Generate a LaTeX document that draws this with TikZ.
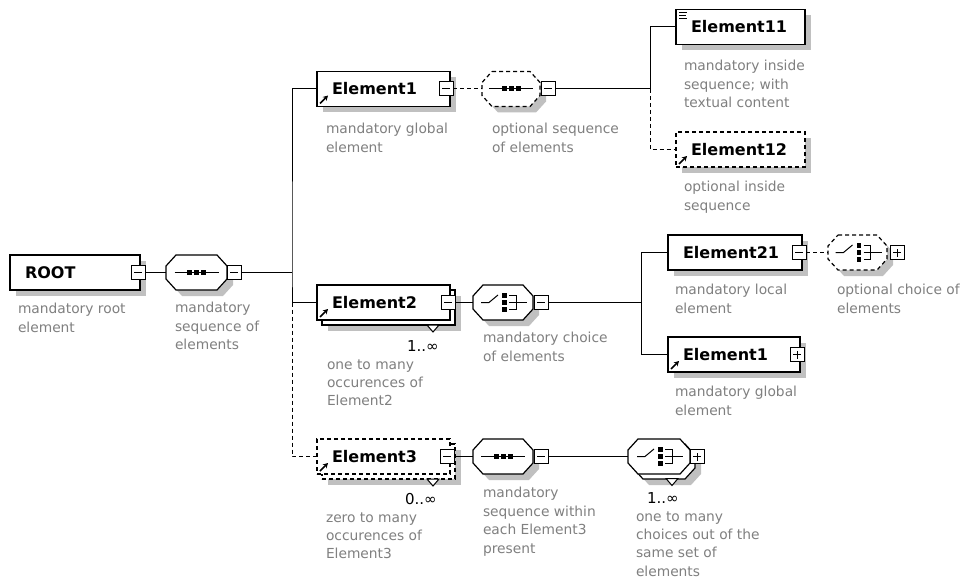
\documentclass[tikz,border=0pt]{standalone}
\usepackage{fontspec}
\setmainfont{DejaVu Sans}
\usetikzlibrary{shadows,arrows.meta}
\definecolor{shd}{HTML}{C0C0C0}
\definecolor{lbl}{HTML}{808080}
% octagon (compositor) outline drawn round a named rectangle node
\newcommand\octshape[2]{%
  \path[#2] ([xshift=10pt]#1.north west) -- ([xshift=-10pt]#1.north east)
    -- ([yshift=-11pt]#1.north east) -- ([yshift=11pt]#1.south east)
    -- ([xshift=-10pt]#1.south east) -- ([xshift=10pt]#1.south west)
    -- ([yshift=11pt]#1.south west) -- ([yshift=-11pt]#1.north west) -- cycle;}
% sequence icon
\newcommand\seqicon[1]{%
  \draw[line width=1pt] ([xshift=-22pt]#1.center) -- ([xshift=22pt]#1.center);
  \fill ([xshift=-9.5pt,yshift=-2.5pt]#1.center) rectangle ([xshift=-4.5pt,yshift=2.5pt]#1.center);
  \fill ([xshift=-2.5pt,yshift=-2.5pt]#1.center) rectangle ([xshift=2.5pt,yshift=2.5pt]#1.center);
  \fill ([xshift=4.5pt,yshift=-2.5pt]#1.center) rectangle ([xshift=9.5pt,yshift=2.5pt]#1.center);}
% choice icon
\newcommand\choiceicon[1]{%
  \draw[line width=1pt] ([xshift=-22pt]#1.center) -- ([xshift=-14pt]#1.center) -- ([xshift=-5pt,yshift=7.5pt]#1.center);
  \fill ([xshift=-0.7pt,yshift=4.5pt]#1.center) rectangle ([xshift=3.7pt,yshift=9.5pt]#1.center);
  \fill ([xshift=-0.7pt,yshift=-2.5pt]#1.center) rectangle ([xshift=3.7pt,yshift=2.5pt]#1.center);
  \fill ([xshift=-0.7pt,yshift=-9.5pt]#1.center) rectangle ([xshift=3.7pt,yshift=-4.5pt]#1.center);
  \draw[line width=1pt] ([xshift=6pt,yshift=7pt]#1.center) -| ([xshift=13pt,yshift=-7pt]#1.center) -- ([xshift=6pt,yshift=-7pt]#1.center)
    ([xshift=6pt]#1.center) -- ([xshift=24pt]#1.center);}
\begin{document}
\begin{tikzpicture}[x=1pt,y=-1pt,
  every node/.style={inner sep=0pt,outer sep=0pt},
  conn/.style={line width=1pt},
  dsh/.style={dash pattern=on 4pt off 3pt},
  sh/.style={drop shadow={shadow xshift=6pt,shadow yshift=-6pt,fill=shd,opacity=1}},
  box/.style={draw,fill=white,line width=1.2pt,rectangle,minimum height=35pt},
  elem/.style={box,sh},
  compnode/.style={rectangle,minimum height=35pt},
  octdraw/.style={draw,fill=white,line width=1.2pt},
  pmbox/.style={draw,fill=white,line width=1pt,minimum size=14pt},
  minus/.style={pmbox,path picture={
    \draw[line width=1pt] ([xshift=3pt]path picture bounding box.west) -- ([xshift=-3pt]path picture bounding box.east);}},
  plus/.style={pmbox,path picture={
    \draw[line width=1pt] ([xshift=3pt]path picture bounding box.west) -- ([xshift=-3pt]path picture bounding box.east);
    \draw[line width=1pt] ([yshift=3pt]path picture bounding box.south) -- ([yshift=-3pt]path picture bounding box.north);}},
  ename/.style={font=\fontsize{16}{19}\selectfont\bfseries,anchor=west},
  lab/.style={font=\fontsize{13.8}{18.4}\selectfont,text=lbl,align=left,anchor=north west},
  mult/.style={font=\fontsize{15}{18}\selectfont,anchor=base west},
  refarr/.style={line width=1.5pt,-{Stealth[length=5pt,width=5.5pt]}},
  tri/.style={draw,fill=white,line width=1pt}
]
\fill[white] (0,0) rectangle (960,583);
\useasboundingbox (0,0) rectangle (960,583);

% ---------- ROOT ----------
\node[elem,minimum width=130pt] (root) at (75,272.5) {};
\node[ename] (rootT) at ([xshift=15pt]root.west) {ROOT};
\node[minus] (rootm) at (138,272.5) {};
\node[lab] (rootL) at (18,303.5) {mandatory root\\element};

\node[compnode,minimum width=61pt] (seq1) at (196.5,272.5) {};
\octshape{seq1}{octdraw,sh}
\seqicon{seq1}
\node[minus] (seq1m) at (234,272.5) {};
\node[lab] (seq1L) at (175,302.5) {mandatory\\sequence of\\elements};
\coordinate (t1) at (292,272.5);

% ---------- Element1 ----------
\node[elem,minimum width=133pt] (e1) at (383.5,89) {};
\node[ename] (e1T) at ([xshift=15pt]e1.west) {Element1};
\node[minus] (e1m) at (446,89) {};
\draw[refarr] ([xshift=3pt,yshift=3pt]e1.south west) -- ++(8,-8);
\node[lab] (e1L) at (326,123.5) {mandatory global\\element};

\node[compnode,minimum width=58pt] (os1) at (511,89) {};
\octshape{os1}{octdraw,dsh,sh}
\seqicon{os1}
\node[minus] (os1m) at (548,89) {};
\node[lab] (os1L) at (492,123.5) {optional sequence\\of elements};
\coordinate (t2) at (650,89);

\node[elem,minimum width=129pt] (e11) at (740.5,27) {};
\node[ename] (e11T) at ([xshift=15pt]e11.west) {Element11};
\draw[line width=1pt] (679,12.5) -- (687,12.5) (679,15.5) -- (686,15.5) (679,18.5) -- (687,18.5);
\node[lab] (e11L) at (684,60.5) {mandatory inside\\sequence; with\\textual content};

\node[elem,dsh,minimum width=129pt] (e12) at (740.5,149.5) {};
\node[ename] (e12T) at ([xshift=15pt]e12.west) {Element12};
\draw[refarr] ([xshift=3pt,yshift=3pt]e12.south west) -- ++(8,-8);
\node[lab] (e12L) at (684,181.5) {optional inside\\sequence};

% ---------- Element2 ----------
\node[elem,minimum width=133pt] (e2b) at (388.5,307.5) {};
\node[box,minimum width=133pt] (e2) at (383.5,302.5) {};
\node[ename] (e2T) at ([xshift=15pt]e2.west) {Element2};
\draw[tri] (427,325) -- (439,325) -- (433,332) -- cycle;
\node[minus] (e2m) at (448,302.5) {};
\draw[refarr] ([xshift=3pt,yshift=3pt]e2.south west) -- ++(8,-8);
\node[mult] (e2M) at (407,351) {1..∞};
\node[lab] (e2L) at (327,359.5) {one to many\\occurences of\\Element2};

\node[compnode,minimum width=60pt] (c2) at (503,302.5) {};
\octshape{c2}{octdraw,sh}
\choiceicon{c2}
\node[minus] (c2m) at (541,302.5) {};
\node[lab] (c2L) at (483,332.5) {mandatory choice\\of elements};
\coordinate (t3) at (641,302.5);

\node[elem,minimum width=134pt] (e21) at (735,252.5) {};
\node[ename] (e21T) at ([xshift=15pt]e21.west) {Element21};
\node[minus] (e21m) at (799,252.5) {};
\node[lab] (e21L) at (675,284.5) {mandatory local\\element};

\node[compnode,minimum width=59pt] (oc21) at (857.5,252.5) {};
\octshape{oc21}{octdraw,dsh,sh}
\choiceicon{oc21}
\node[plus] (oc21p) at (897,252.5) {};
\node[lab] (oc21L) at (837,284.5) {optional choice of\\elements};

\node[elem,minimum width=132pt] (e1b) at (734,354.5) {};
\node[ename] (e1bT) at ([xshift=15pt]e1b.west) {Element1};
\node[plus] (e1bp) at (797,354.5) {};
\draw[refarr] ([xshift=3pt,yshift=3pt]e1b.south west) -- ++(8,-8);
\node[lab] (e1bL) at (675,386.5) {mandatory global\\element};

% ---------- Element3 ----------
\node[elem,dsh,minimum width=133pt] (e3b) at (388.5,461.5) {};
\node[box,dsh,minimum width=133pt] (e3) at (383.5,456.5) {};
\node[ename] (e3T) at ([xshift=15pt]e3.west) {Element3};
\draw[tri] (427,479) -- (439,479) -- (433,486) -- cycle;
\node[minus] (e3m) at (447,456.5) {};
\draw[refarr] ([xshift=3pt,yshift=3pt]e3.south west) -- ++(8,-8);
\node[mult] (e3M) at (405,504) {0..∞};
\node[lab] (e3L) at (326,512.5) {zero to many\\occurences of\\Element3};

\node[compnode,minimum width=60pt] (s3) at (503,456.5) {};
\octshape{s3}{octdraw,sh}
\seqicon{s3}
\node[minus] (s3m) at (541,456.5) {};
\node[lab] (s3L) at (483,487.5) {mandatory\\sequence within\\each Element3\\present};

\node[compnode,minimum width=62pt] (c3b) at (664,461.5) {};
\octshape{c3b}{octdraw,sh}
\node[compnode,minimum width=62pt] (c3) at (659,456.5) {};
\octshape{c3}{octdraw}
\choiceicon{c3}
\draw[tri] (666,478.5) -- (678,478.5) -- (672,485.5) -- cycle;
\node[plus] (c3p) at (697,456.5) {};
\node[mult] (c3M) at (647,503) {1..∞};
\node[lab] (c3L) at (636,511.5) {one to many\\choices out of the\\same set of\\elements};

% ---------- connectors ----------
\draw[conn] (rootm.east) -- (seq1.west);
\draw[conn] (seq1m.east) -- (t1);
\draw[conn] (e1.west) -| (t1) |- (e2.west);
\draw[conn,dsh] (t1 |- e2.west) |- (e3.west);
\draw[conn,dsh] (e1m.east) -- (os1.west);
\draw[conn] (os1m.east) -- (t2);
\draw[conn] (t2) |- (e11.west);
\draw[conn,dsh] (t2) |- (e12.west);
\draw[conn] (e2m.east) -- (c2.west);
\draw[conn] (c2m.east) -- (t3);
\draw[conn] (e21.west) -| (t3) |- (e1b.west);
\draw[conn,dsh] (e21m.east) -- (oc21.west);
\draw[conn] (e3m.east) -- (s3.west);
\draw[conn] (s3m.east) -- (c3.west);
\end{tikzpicture}
\end{document}
